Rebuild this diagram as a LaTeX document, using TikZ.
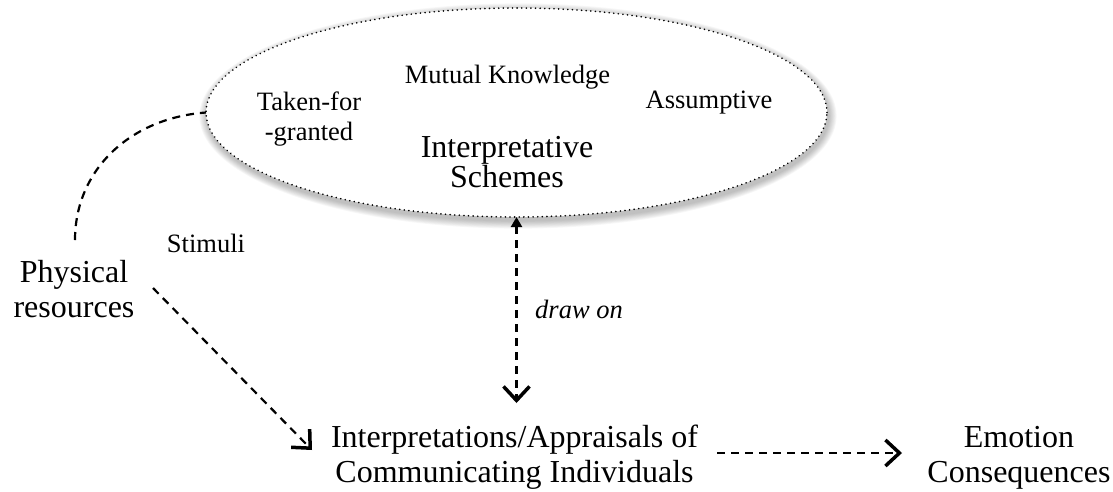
\documentclass[tikz,border=0pt]{standalone}
\usepackage{fontspec}
\setmainfont{Liberation Serif}
\usetikzlibrary{arrows.meta,shapes.geometric}
\begin{document}
\begin{tikzpicture}[x=1pt,y=-1pt,
  small/.style={font=\fontsize{26.5}{30}\selectfont, inner sep=0pt, anchor=base, align=center},
  big/.style={font=\fontsize{32}{35}\selectfont, inner sep=0pt, anchor=base, align=center},
  schemebox/.style={ellipse, draw=black, fill=white, inner sep=0pt, outer sep=0pt,
    minimum width=621pt, minimum height=209pt,
    line width=1.8pt, line cap=round, dash pattern=on 0.01pt off 4.6pt},
  link/.style={draw=black, line width=2.2pt, dash pattern=on 8pt off 6pt},
  barb/.tip={Straight Barb[length=14pt, width=26pt, line width=3.5pt]}]
\useasboundingbox (0,0) rectangle (1113,491);

% soft shadow under the ellipse
\foreach \i in {1,...,9}
  \fill[black, opacity=0.03] (518,116) ellipse [x radius=310.5+\i*0.9, y radius=104.5+\i*0.9];

% interpretative schemes (multi-line nodes sit on the baseline of their last line)
\node[schemebox] (ell) at (516.5,112.5) {};
\node[small] (taken) at (309,140) {Taken-for\\-granted};
\node[small] (mutual) at (507.5,83) {Mutual Knowledge};
\node[small] (assum) at (709,108) {Assumptive};
\node[big, font=\fontsize{32}{30}\selectfont] (schemes) at (507,187) {Interpretative\\Schemes};

% left side
\node[small] (stim) at (206,252) {Stimuli};
\node[big] (phys) at (74,317) {Physical\\resources};

% lower row
\node[big] (interp) at (514.5,482) {Interpretations/Appraisals of\\Communicating Individuals};
\node[big] (emo) at (1019,482) {Emotion\\Consequences};
\node[small, font=\fontsize{26.5}{30}\selectfont\itshape, anchor=base west] (drawon) at (535,318) {draw on};

% connector end points
\coordinate (prtop) at (75,240);
\coordinate (stimA) at (153,288);
\coordinate (stimB) at (312,450);
\coordinate (interpTop) at (516.5,403);
\coordinate (emoA) at (717,453);
\coordinate (emoB) at (902,453);

% connectors
\draw[link] (prtop) .. controls (75,170) and (130,118) .. (ell.west);
\draw[link, -barb] (stimA) -- (stimB);
\draw[link, {Triangle[length=10pt, width=11pt]}-barb] (ell.south) -- (interpTop);
\draw[link, -barb] (emoA) -- (emoB);
\end{tikzpicture}
\end{document}
